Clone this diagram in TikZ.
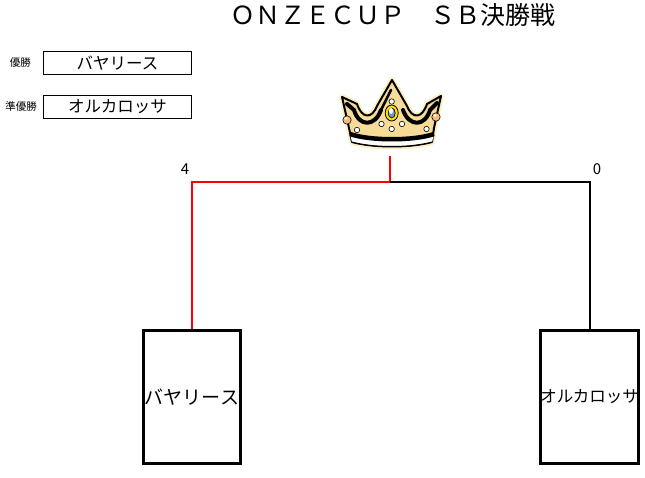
\documentclass[tikz,border=0pt]{standalone}
\usepackage{fontspec}
\setmainfont{Noto Sans CJK JP}
\definecolor{crowngold}{HTML}{F6DC98}
\definecolor{crownhalo}{HTML}{FCF0C8}
\begin{document}
\begin{tikzpicture}[x=1pt,y=-1pt,
  teambox/.style={draw,line width=3pt,minimum width=97pt,minimum height=133pt,inner sep=0pt},
  resbox/.style={draw,line width=1.2pt,minimum width=148pt,minimum height=23pt,inner sep=0pt,font=\fontsize{16.5}{16.5}\selectfont},
  lbl/.style={inner sep=0pt,font=\fontsize{10.5}{11}\selectfont},
  score/.style={inner sep=0pt,font=\fontsize{15}{15}\selectfont},
  winline/.style={draw=red,line width=2pt},
  loseline/.style={draw=black,line width=2pt},
  pearl/.style={draw=black,fill=white,line width=0.6pt}]
\useasboundingbox (0,0) rectangle (645,478);
% title
\node[inner sep=0pt,font=\fontsize{25}{25}\selectfont] (title) at (393,15) {ＯＮＺＥＣＵＰ　ＳＢ決勝戦};
% result boxes
\node[resbox] (winbox) at (117.5,63) {バヤリース};
\node[resbox] (runbox) at (117.5,107) {オルカロッサ};
\node[lbl,anchor=east] (winlbl) at (31,63) {優勝};
\node[lbl,anchor=east] (runlbl) at (37,107) {準優勝};
% team boxes
\node[teambox] (lbox) at (192,397) {\fontsize{19}{19}\selectfont バヤリース};
\node[teambox] (rbox) at (589.5,397) {\fontsize{16.5}{17}\selectfont オルカロッサ};
% scores
\node[score] (lscore) at (185,169) {4};
\node[score] (rscore) at (597,169) {0};
% bracket
\coordinate (mid) at (390,182);
\coordinate (champ) at (390,156);
\draw[winline] (lbox.north) |- (mid) -- (champ);
\draw[loseline] (mid) -| (rbox.north);
% crown
\begin{scope}
\def\crownpath{(342,97) -- (357,104) .. controls (362,119) and (372,119) .. (377,106) -- (392,80) -- (407,106) .. controls (412,119) and (422,119) .. (427,104) -- (441,96) -- (434,128) -- (432,142) .. controls (410,148) and (374,148) .. (352,142) -- (349,128) -- cycle}
\draw[crownhalo,line width=6pt,line join=round] \crownpath;
\filldraw[fill=crowngold,draw=black,line width=2pt,line join=round] \crownpath;
% inner black strokes
\draw[line width=4pt,line cap=round,line join=round] (347,104) -- (354,110) .. controls (359,127) and (375,127) .. (381,110);
\draw[line width=4pt,line cap=round,line join=round] (437,103) -- (430,110) .. controls (425,127) and (409,127) .. (403,110);
\draw[line width=2.5pt,line cap=round] (381,110) -- (391,90);
% bottom band
\fill[white] (350,134) .. controls (370,141) and (414,141) .. (434,134) -- (432,142) .. controls (410,148) and (374,148) .. (352,142) -- cycle;
\draw[line width=4.5pt] (350,134) .. controls (370,141) and (414,141) .. (434,134);
\draw[line width=1pt] (352,142) .. controls (374,148) and (410,148) .. (432,142);
% jewels
\filldraw[draw=black,fill=yellow!80!orange,line width=0.8pt] (391.7,113) ellipse (6.5 and 8);
\filldraw[draw=black,fill=cyan!50!blue!60,line width=0.6pt] (391.7,113) ellipse (3.5 and 5);
\fill[white] (391,111) ellipse (2 and 3);
\foreach \p in {(391.7,101.5),(381.5,124),(402,124),(391.7,129),(357,130),(426.5,129)}
  \filldraw[pearl] \p circle (2.7);
\filldraw[draw=black,fill=orange!55,line width=0.6pt] (347,120) circle (4.2);
\filldraw[draw=black,fill=orange!55,line width=0.6pt] (436,117) circle (4.2);
\fill[white] (346,118.5) circle (1.5);
\fill[white] (435,115.5) circle (1.5);
\end{scope}
\end{tikzpicture}
\end{document}
